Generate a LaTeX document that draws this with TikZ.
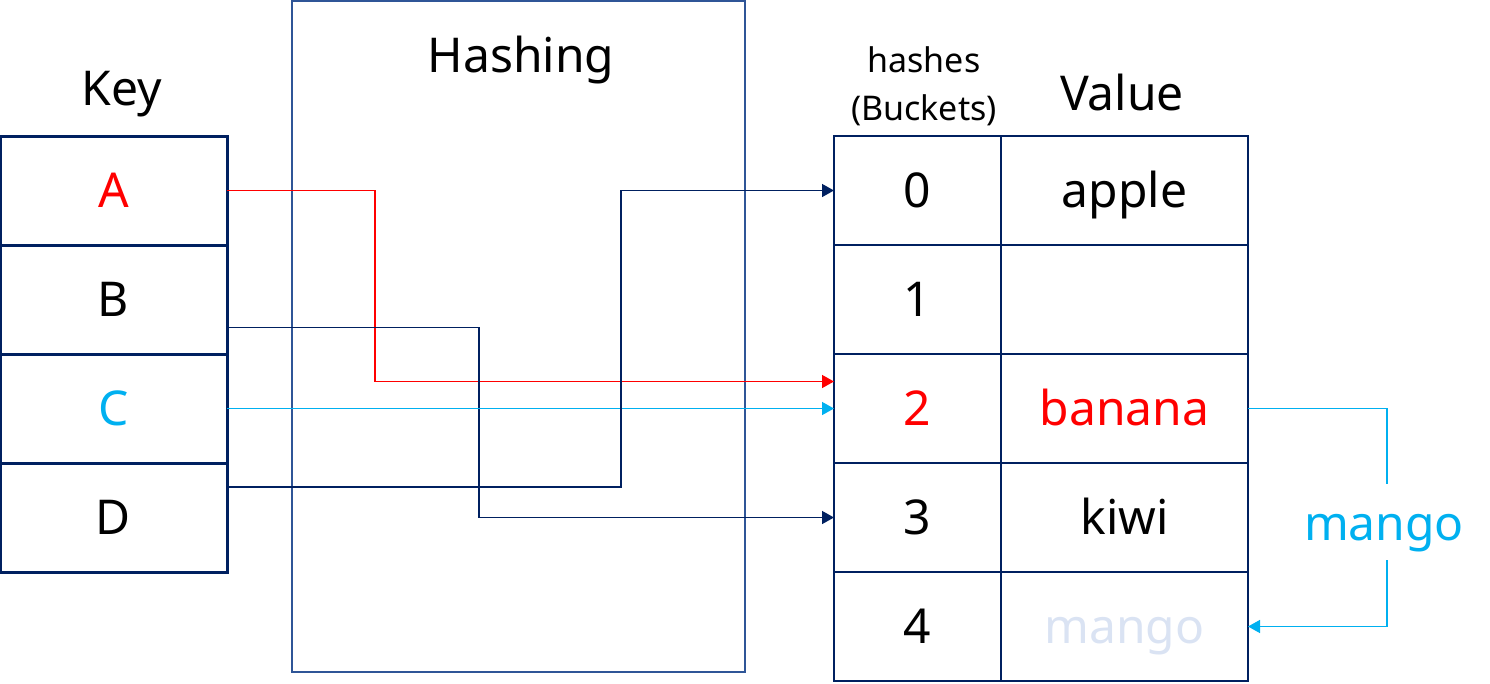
\documentclass[tikz,border=0pt]{standalone}
\usepackage{fontspec}
\setmainfont{Noto Sans}
\usepackage{tikz}
\usetikzlibrary{positioning, arrows.meta, calc}
\definecolor{navy}{HTML}{002060}
\definecolor{steel}{HTML}{2F5597}
\definecolor{hot}{HTML}{FF0000}
\definecolor{sky}{HTML}{00B0F0}
\definecolor{pale}{HTML}{DAE3F3}

\begin{document}
\begin{tikzpicture}[
  x=1pt, y=-1pt,
  big/.style={font=\fontsize{48pt}{58pt}\selectfont},
  small/.style={font=\fontsize{34pt}{41pt}\selectfont},
  cell/.style={rectangle, draw=navy, line width=2.5pt, outer sep=0pt, inner sep=0pt,
               minimum height=109pt, big, text height=34pt, text depth=0pt},
  keycell/.style={cell, line width=3pt, minimum width=227pt},
  hcell/.style={cell, minimum width=167pt},
  vcell/.style={cell, minimum width=247pt},
  head/.style={big, anchor=base, inner sep=0pt},
  wire/.style={line width=1.5pt},
  link/.style={wire, -{Triangle[length=12pt, width=13pt]}}
]
  \useasboundingbox (0,0) rectangle (1490,683);

  % hashing block
  \node[draw=steel, line width=2pt, outer sep=0pt, minimum width=453pt, minimum height=671pt]
    (hashbox) at (518.5,336.5) {};
  \node[head] (hashlbl) at (521,72) {Hashing};

  % keys
  \node[head] (keylbl) at (122,105) {Key};
  \node[keycell, text=hot] (kA) at (113.5,190.5) {A};
  \node[keycell, below=0pt of kA] (kB) {B};
  \node[keycell, below=0pt of kB, text=sky] (kC) {C};
  \node[keycell, below=0pt of kC] (kD) {D};

  % buckets and values
  \node[small, anchor=base, inner sep=0pt] (hasheslbl) at (924,72) {hashes};
  \node[small, anchor=base, inner sep=0pt] (bucketslbl) at (924,120) {(Buckets)};
  \node[head] (valuelbl) at (1122,110) {Value};

  \node[hcell] (h0) at (917.5,190.5) {0};
  \node[hcell, below=0pt of h0] (h1) {1};
  \node[hcell, below=0pt of h1, text=hot] (h2) {2};
  \node[hcell, below=0pt of h2] (h3) {3};
  \node[hcell, below=0pt of h3] (h4) {4};
  \node[vcell, right=0pt of h0] (v0) {apple};
  \node[vcell, right=0pt of h1] (v1) {};
  \node[vcell, right=0pt of h2, text=hot] (v2) {banana};
  \node[vcell, right=0pt of h3] (v3) {kiwi};
  \node[vcell, right=0pt of h4, text=pale] (v4) {mango};

  % key -> bucket
  \draw[link, hot] (kA.east) -- ++(148,0) |- ([yshift=27pt]h2.west);
  \draw[link, navy] ([yshift=-28pt]kB.east) -- ++(252,0) |- (h3.west);
  \draw[link, sky] (kC.east) -- (h2.west);
  \draw[link, navy] ([yshift=30.5pt]kD.east) -- ++(394,0) |- (h0.west);

  % collision
  \node[big, text=sky, anchor=base, inner xsep=0pt, inner ysep=6pt, text height=50pt, text depth=14pt]
    (mlbl) at (1384,540) {mango};
  \draw[wire, sky] (v2.east) -| ($(mlbl.north)+(3,0)$);
  \draw[link, sky] ($(mlbl.south)+(3,0)$) |- (v4.east);
\end{tikzpicture}
\end{document}
